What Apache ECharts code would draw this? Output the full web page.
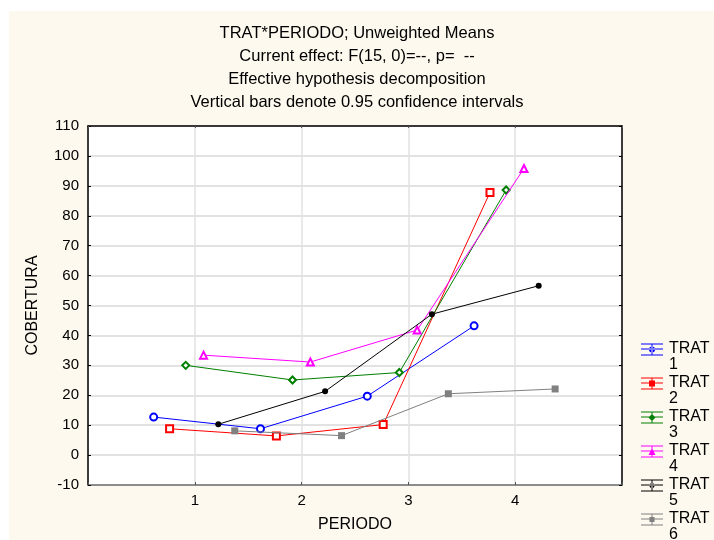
<!DOCTYPE html>
<html>
<head>
<meta charset="utf-8">
<script src="https://cdn.jsdelivr.net/npm/echarts@6/dist/echarts.min.js"></script>
<style>
html,body{margin:0;padding:0;background:#ffffff;}
#chart{width:714px;height:540px;}
</style>
</head>
<body>
<div id="chart"></div>
<script>
// ---- data ----
const periods = [1, 2, 3, 4];
const seriesNames = ['TRAT 1', 'TRAT 2', 'TRAT 3', 'TRAT 4', 'TRAT 5', 'TRAT 6'];
const trat1 = [12.7, 8.8, 19.7, 43.2];
const trat2 = [8.8, 6.4, 10.2, 87.8];
const trat3 = [30.0, 25.1, 27.6, 88.6];
const trat4 = [33.4, 31.1, 41.8, 95.8];
const trat5 = [10.3, 21.3, 47.1, 56.6];
const trat6 = [8.1, 6.5, 20.5, 22.1];
const yTicks = [-10, 0, 10, 20, 30, 40, 50, 60, 70, 80, 90, 100, 110];
const titleLines = [
  'TRAT*PERIODO; Unweighted Means',
  'Current effect: F(15, 0)=--, p=  --',
  'Effective hypothesis decomposition',
  'Vertical bars denote 0.95 confidence intervals'
];

// ---- layout / style ----
const allValues = [trat1, trat2, trat3, trat4, trat5, trat6];
const dodge = [-0.385, -0.236, -0.085, 0.082, 0.22, 0.374];
const colors = ['#0000ff', '#ff0000', '#008000', '#ff00ff', '#000000', '#808080'];
const symbols = ['emptyCircle', 'emptyRect', 'emptyDiamond', 'emptyTriangle', 'circle', 'rect'];
const symbolSizes = [7, 7, 7, 7, 6, 7];
const FONT = '"Liberation Sans", Arial, sans-serif';

// legend icon: error-bar glyph (three horizontal bars, vertical stem, marker) in top half of a 22x32 box
const markerPaths = [
  'M8 8.5 A3 3 0 1 0 14 8.5 A3 3 0 1 0 8 8.5 Z',
  'M8 5.5 L14 5.5 L14 11.5 L8 11.5 Z',
  'M11 5 L14.5 8.5 L11 12 L7.5 8.5 Z',
  'M11 5 L14.5 12 L7.5 12 Z',
  'M8.5 8.5 A2.5 2.5 0 1 0 13.5 8.5 A2.5 2.5 0 1 0 8.5 8.5 Z',
  'M8.5 6 L13.5 6 L13.5 11 L8.5 11 Z'
];
function legendIcon(i) {
  return 'path://' +
    'M0 2.5 L22 2.5 L22 3.5 L0 3.5 Z ' +
    'M0 7.5 L22 7.5 L22 8.5 L0 8.5 Z ' +
    'M0 13.5 L22 13.5 L22 14.5 L0 14.5 Z ' +
    'M10.5 2.5 L11.5 2.5 L11.5 14.5 L10.5 14.5 Z ' +
    markerPaths[i] + ' M0 32 L0 32 M22 0 L22 0';
}

const series = allValues.map((vals, i) => ({
  name: seriesNames[i],
  type: 'line',
  data: periods.map((p, k) => [p + dodge[i], vals[k]]),
  symbol: symbols[i],
  symbolSize: symbolSizes[i],
  showSymbol: true,
  color: colors[i],
  lineStyle: { width: 1, color: colors[i] },
  itemStyle: { color: colors[i], borderWidth: 2 },
  emphasis: { disabled: true },
  z: 3 + i
}));

const chart = echarts.init(document.getElementById('chart'), null, { renderer: 'canvas' });
chart.setOption({
  animation: false,
  backgroundColor: '#ffffff',
  textStyle: { fontFamily: FONT },
  graphic: [{
    type: 'rect', left: 9, top: 11, z: -10,
    shape: { width: 705, height: 529 },
    style: { fill: '#fef9ee' }, silent: true
  }],
  title: {
    text: titleLines.join('\n'),
    left: 'center',
    top: 17,
    textStyle: { fontFamily: FONT, fontSize: 16.5, fontWeight: 'normal', color: '#000', lineHeight: 23 }
  },
  grid: {
    left: 88, right: 92, top: 126, bottom: 55,
    show: true, backgroundColor: '#ffffff', borderWidth: 0
  },
  legend: {
    orient: 'vertical',
    left: 641, top: 341, height: 205,
    padding: 0,
    itemWidth: 22, itemHeight: 32, itemGap: 2,
    data: seriesNames.map((n, i) => ({ name: n, icon: legendIcon(i) })),
    itemStyle: { borderWidth: 0 },
    formatter: n => n.replace(' ', '\n'),
    textStyle: { fontFamily: FONT, fontSize: 16, color: '#000', lineHeight: 16, padding: [0, 0, 0, 1] },
    selectedMode: false
  },
  xAxis: [{
    type: 'value', min: 0, max: 5, interval: 1, position: 'bottom',
    name: 'PERIODO', nameLocation: 'middle', nameGap: 32,
    nameTextStyle: { fontFamily: FONT, fontSize: 16, color: '#000' },
    axisLine: { show: true, onZero: false, lineStyle: { color: '#707070', width: 1.5 } },
    axisTick: { show: true, inside: true, length: 3, lineStyle: { color: '#555' } },
    axisLabel: {
      fontFamily: FONT, fontSize: 15, color: '#000', margin: 8,
      formatter: v => (periods.indexOf(v) >= 0 ? String(v) : '')
    },
    splitLine: { show: true, lineStyle: { color: '#e2e2e2', width: 1.5 } }
  }, {
    type: 'value', min: 0, max: 5, interval: 1, position: 'top',
    axisLine: { show: true, onZero: false, lineStyle: { color: '#000', width: 1.5 } },
    axisTick: { show: true, inside: true, length: 2, lineStyle: { color: '#555' } },
    axisLabel: { show: false },
    splitLine: { show: false }
  }],
  yAxis: [{
    type: 'value', min: yTicks[0], max: yTicks[yTicks.length - 1], interval: 10, position: 'left',
    name: 'COBERTURA', nameLocation: 'middle', nameGap: 47, nameRotate: 90,
    nameTextStyle: { fontFamily: FONT, fontSize: 16, color: '#000' },
    axisLine: { show: true, onZero: false, lineStyle: { color: '#000', width: 1.5 } },
    axisTick: { show: true, inside: true, length: 3, lineStyle: { color: '#000' } },
    axisLabel: { fontFamily: FONT, fontSize: 15, color: '#000', margin: 9 },
    splitLine: { show: true, lineStyle: { color: '#d8d8d8', width: 1.5 } }
  }, {
    type: 'value', min: yTicks[0], max: yTicks[yTicks.length - 1], interval: 10, position: 'right',
    axisLine: { show: true, onZero: false, lineStyle: { color: '#000', width: 1.5 } },
    axisTick: { show: true, inside: true, length: 3, lineStyle: { color: '#000' } },
    axisLabel: { show: false },
    splitLine: { show: false }
  }],
  series: series
});
</script>
</body>
</html>
